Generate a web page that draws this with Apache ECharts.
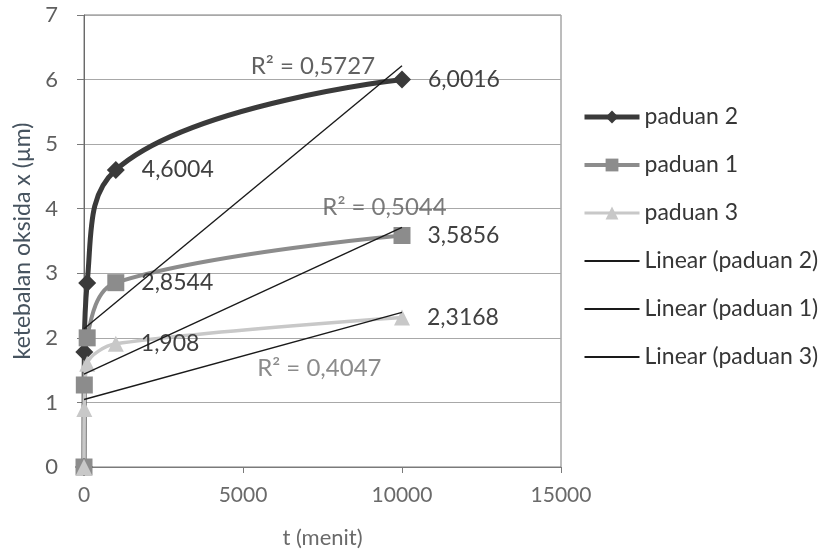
<!DOCTYPE html>
<html>
<head>
<meta charset="utf-8">
<title>Ketebalan oksida</title>
<script src="https://cdn.jsdelivr.net/npm/echarts@6/dist/echarts.min.js"></script>
<style>
  html, body { margin: 0; padding: 0; background: #ffffff; }
  #chart { width: 830px; height: 556px; }
</style>
</head>
<body>
<div id="chart"></div>
<script>
// Oxidation time in minutes
const tMenit = [0, 10, 100, 1000, 10000];

// Oxide thickness (µm) per alloy
const paduan2 = [0, 1.78, 2.85, 4.6004, 6.0016];
const paduan1 = [0, 1.27, 2.0, 2.8544, 3.5856];
const paduan3 = [0, 0.9, 1.6, 1.908, 2.3168];

// Coefficient of determination text for each linear trend
const r2Text = ['R² = 0,5727', 'R² = 0,5044', 'R² = 0,4047'];

// Axis ticks
const xTicks = [0, 5000, 10000, 15000];
const yTicks = [0, 1, 2, 3, 4, 5, 6, 7];

// Only the last two points of each series carry a value label
const labeledIndex = [3, 4];

// Where the R² texts sit, in chart (t, x) units
const r2Anchor = [[7200, 6.2], [9450, 4.02], [7400, 1.53]];
const r2Color = ['#3a3a3a', '#5a5a5a', '#6e6e6e'];

const FONT = 'Lato';

function linFit(xs, ys) {
  const n = xs.length;
  const mx = xs.reduce((a, b) => a + b, 0) / n;
  const my = ys.reduce((a, b) => a + b, 0) / n;
  let sxy = 0, sxx = 0;
  for (let i = 0; i < n; i++) {
    sxy += (xs[i] - mx) * (ys[i] - my);
    sxx += (xs[i] - mx) * (xs[i] - mx);
  }
  const slope = sxy / sxx;
  const icpt = my - slope * mx;
  const x0 = Math.min(...xs), x1 = Math.max(...xs);
  return [[x0, icpt + slope * x0], [x1, icpt + slope * x1]];
}

function pairs(ys) { return tMenit.map((t, i) => [t, ys[i]]); }

function fmtComma(v) { return String(v).replace('.', ','); }

function dataSeries(name, ys, color, lineW, symbol, symSize, smooth) {
  return {
    name: name,
    type: 'line',
    data: pairs(ys),
    smooth: smooth,
    symbol: symbol,
    symbolSize: symSize,
    color: color,
    lineStyle: { color: color, width: lineW },
    itemStyle: { color: color },
    label: {
      show: true,
      position: 'right',
      distance: 17,
      fontFamily: FONT,
      fontSize: 23,
      color: '#404040',
      formatter: p => labeledIndex.includes(p.dataIndex) ? fmtComma(p.value[1]) : ''
    },
    emphasis: { disabled: true },
    z: 2
  };
}

function trendSeries(name, ys) {
  return {
    name: name,
    type: 'line',
    data: linFit(tMenit, ys),
    symbol: 'none',
    color: '#1a1a1a',
    lineStyle: { color: '#1a1a1a', width: 1.4 },
    emphasis: { disabled: true },
    z: 3
  };
}

const r2Series = {
  type: 'scatter',
  symbolSize: 0,
  silent: true,
  data: r2Anchor.map((p, i) => ({
    value: p,
    label: {
      show: true,
      position: 'inside',
      formatter: r2Text[i],
      fontFamily: FONT,
      fontSize: 24,
      color: r2Color[i]
    }
  })),
  z: 4
};

const chart = echarts.init(document.getElementById('chart'), null, { renderer: 'canvas' });

chart.setOption({
  animation: false,
  backgroundColor: '#ffffff',
  grid: {
    left: 84, right: 269, top: 15, bottom: 89,
    show: true, borderColor: '#7a7a7a', borderWidth: 1, backgroundColor: 'transparent'
  },
  legend: {
    orient: 'vertical',
    left: 577,
    top: 100,
    itemWidth: 55,
    itemHeight: 16,
    itemGap: 24,
    data: [
      { name: 'paduan 2', lineStyle: { width: 5 } },
      { name: 'paduan 1', lineStyle: { width: 4 } },
      { name: 'paduan 3', lineStyle: { width: 3 } },
      { name: 'Linear (paduan 2)', itemStyle: { opacity: 0 } },
      { name: 'Linear (paduan 1)', itemStyle: { opacity: 0 } },
      { name: 'Linear (paduan 3)', itemStyle: { opacity: 0 } }
    ],
    textStyle: { fontFamily: FONT, fontSize: 23, color: '#363636', lineHeight: 24 }
  },
  xAxis: {
    type: 'value',
    min: xTicks[0],
    max: xTicks[xTicks.length - 1],
    interval: xTicks[1] - xTicks[0],
    name: 't (menit)',
    nameLocation: 'middle',
    nameGap: 60,
    nameTextStyle: { fontFamily: FONT, fontSize: 22, color: '#6a6a6a' },
    axisLine: { show: true, onZero: false, lineStyle: { color: '#7a7a7a', width: 1 } },
    axisTick: { show: true, inside: false, length: 6, lineStyle: { color: '#7a7a7a' } },
    axisLabel: { margin: 18, fontFamily: FONT, fontSize: 21, color: '#6a6a6a', formatter: v => String(v) },
    splitLine: { show: false }
  },
  yAxis: {
    type: 'value',
    min: yTicks[0],
    max: yTicks[yTicks.length - 1],
    interval: yTicks[1] - yTicks[0],
    name: 'ketebalan oksida x (µm)',
    nameLocation: 'middle',
    nameGap: 50,
    nameTextStyle: { fontFamily: FONT, fontSize: 23, color: '#46535f' },
    axisLine: { show: true, onZero: false, lineStyle: { color: '#6a6a6a', width: 1 } },
    axisTick: { show: true, inside: false, length: 7, lineStyle: { color: '#7a7a7a' } },
    axisLabel: { margin: 26, fontFamily: FONT, fontSize: 22, color: '#5f5f5f', formatter: v => String(v) },
    splitLine: { show: true, lineStyle: { color: '#a8a8a8', width: 1 } }
  },
  series: [
    dataSeries('paduan 2', paduan2, '#3a3a3a', 5, 'diamond', 18, 0.45),
    dataSeries('paduan 1', paduan1, '#8c8c8c', 4, 'rect', 17, 0.35),
    dataSeries('paduan 3', paduan3, '#c8c8c8', 3.5, 'triangle', 16, 0.3),
    trendSeries('Linear (paduan 2)', paduan2),
    trendSeries('Linear (paduan 1)', paduan1),
    trendSeries('Linear (paduan 3)', paduan3),
    r2Series
  ]
});
</script>
</body>
</html>
